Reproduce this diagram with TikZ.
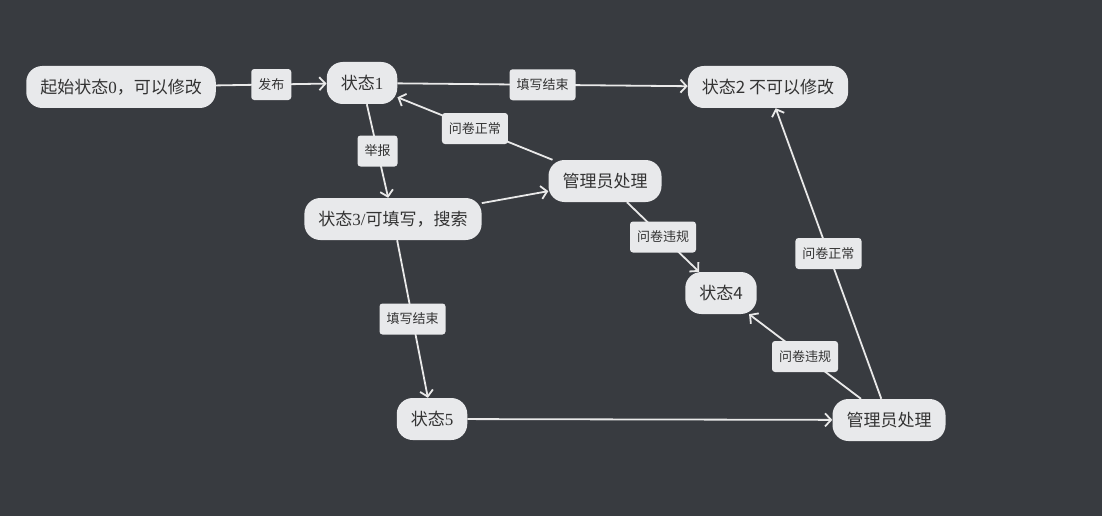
\documentclass[tikz,border=0pt]{standalone}
\usepackage{fontspec}
\setmainfont{Noto Sans CJK SC}
\newfontfamily\numfont{Liberation Serif}
\usetikzlibrary{arrows.meta}
\definecolor{bgdark}{RGB}{56,59,64}
\definecolor{boxfill}{RGB}{232,233,235}
\definecolor{boxtext}{RGB}{51,51,51}
\definecolor{linecol}{RGB}{233,233,233}
\begin{document}
\begin{tikzpicture}[x=1pt,y=-1pt,
    state/.style={fill=boxfill,text=boxtext,rounded corners=16pt,minimum height=42pt,
      inner xsep=14pt,inner ysep=0pt,font=\fontsize{17}{20}\selectfont},
    tag/.style={fill=boxfill,text=boxtext,rounded corners=3pt,minimum height=31pt,
      inner xsep=7pt,inner ysep=0pt,font=\fontsize{13}{16}\selectfont},
    edge/.style={draw=linecol,line width=1.8pt,-{Straight Barb[length=6pt,width=13pt]}},
    link/.style={draw=linecol,line width=1.8pt}]
  \fill[bgdark] (0,0) rectangle (1102,516);
  \useasboundingbox (0,0) rectangle (1102,516);
  % states
  \node[state] (s0) at (121,87) {起始状态{\numfont 0}，可以修改};
  \node[state] (s1) at (362,83) {状态{\numfont 1}};
  \node[state] (s2) at (768,87) {状态2 不可以修改};
  \node[state] (s3) at (393,219) {状态{\numfont 3/}可填写，搜索};
  \node[state] (s4) at (721,293) {状态4};
  \node[state] (s5) at (432,419) {状态{\numfont 5}};
  \node[state] (adm1) at (605,181) {管理员处理};
  \node[state] (adm2) at (889,420) {管理员处理};
  % transitions
  \draw[edge] (s0) -- node[tag] {发布} (s1);
  \draw[edge] (s1) -- node[tag] {填写结束} (s2);
  \draw[edge] (s1) -- node[tag] {举报} (s3);
  \draw[edge] (adm1) -- node[tag] {问卷正常} (s1);
  \draw[edge] (s3) -- (adm1);
  \draw[edge] (adm1) -- node[tag] {问卷违规} (s4);
  \draw[edge] (s3) -- node[tag] {填写结束} (s5);
  \draw[edge] (s5) -- (adm2);
  \draw[edge] (adm2) -- node[tag] {问卷正常} (s2);
  \draw[edge] (adm2) -- node[tag] {问卷违规} (s4);
\end{tikzpicture}
\end{document}
